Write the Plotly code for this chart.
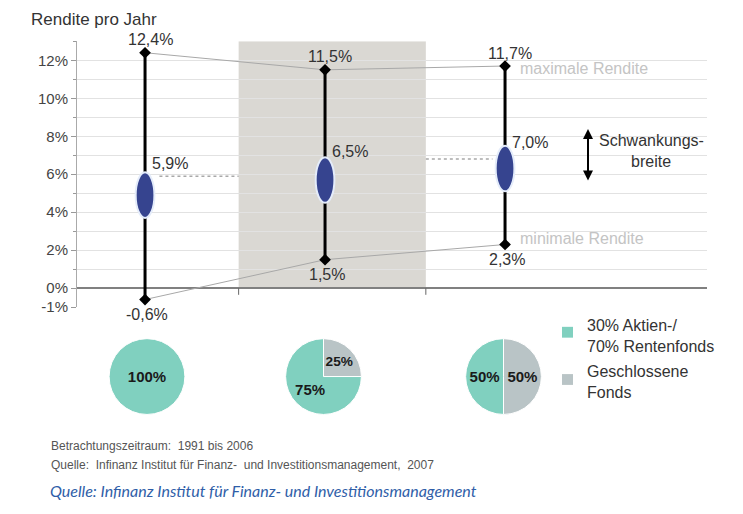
import plotly.graph_objects as go

# ---------------- data ----------------
positions = [0, 1, 2]
max_rendite = [12.4, 11.5, 11.7]
min_rendite = [-0.6, 1.5, 2.3]
mittel_rendite = [5.9, 6.5, 7.0]
ellipse_center = [4.9, 5.7, 6.3]
max_labels = ["12,4%", "11,5%", "11,7%"]
min_labels = ["-0,6%", "1,5%", "2,3%"]
mittel_labels = ["5,9%", "6,5%", "7,0%"]
y_tickvals = [-1, 0, 2, 4, 6, 8, 10, 12]
y_ticktext = ["-1%", "0%", "2%", "4%", "6%", "8%", "10%", "12%"]
pie_labels = ["Geschlossene Fonds", "30% Aktien-/70% Rentenfonds"]
pie_values = [[0, 100], [25, 75], [50, 50]]
legend_texts = ["30% Aktien-/<br>70% Rentenfonds", "Geschlossene<br>Fonds"]

W, H = 743, 514
def px(x): return x / W
def py(y): return 1 - y / H

TEAL = "#80d0bf"
GREY = "#b9c4c6"
TXT = "#333333"
FONT = "Liberation Sans, Arial, sans-serif"

fig = go.Figure()

# connecting lines (max / min)
fig.add_trace(go.Scatter(x=positions, y=max_rendite, mode="lines",
                         line=dict(color="#a8a8a8", width=1), hoverinfo="skip"))
fig.add_trace(go.Scatter(x=positions, y=min_rendite, mode="lines",
                         line=dict(color="#a8a8a8", width=1), hoverinfo="skip"))

# whiskers
for i, x in enumerate(positions):
    fig.add_trace(go.Scatter(x=[x, x], y=[min_rendite[i], max_rendite[i]],
                             mode="lines+markers",
                             line=dict(color="black", width=3),
                             marker=dict(symbol="diamond", size=9, color="black"),
                             hoverinfo="skip"))

# dotted connectors between mean levels
fig.add_trace(go.Scatter(x=[positions[0] + 0.08, 0.52], y=[mittel_rendite[0]] * 2, mode="lines",
                         line=dict(color="#a8a8a8", width=1.5, dash="dot"), hoverinfo="skip"))
fig.add_trace(go.Scatter(x=[1.56, positions[2] - 0.07], y=[mittel_rendite[1] + 0.3] * 2, mode="lines",
                         line=dict(color="#a8a8a8", width=1.5, dash="dot"), hoverinfo="skip"))

shapes = []
# shaded band
shapes.append(dict(type="rect", xref="x", yref="y", x0=0.52, x1=1.56, y0=0, y1=13,
                   fillcolor="#dad8d3", line=dict(width=0), layer="below"))
# ellipses
for i, x in enumerate(positions):
    shapes.append(dict(type="circle", xref="x", yref="y",
                       x0=x - 0.052, x1=x + 0.052,
                       y0=ellipse_center[i] - 1.2, y1=ellipse_center[i] + 1.2,
                       fillcolor="#36448f", line=dict(color="#e4ecfa", width=2), layer="above"))
# small x ticks at band edges
for xv in [0.52, 1.56]:
    shapes.append(dict(type="line", xref="x", yref="y", x0=xv, x1=xv, y0=0, y1=-0.35,
                       line=dict(color="#666", width=1)))
# legend squares
shapes.append(dict(type="rect", xref="paper", yref="paper", x0=px(562), x1=px(573),
                   y0=py(343), y1=py(332), fillcolor=TEAL, line=dict(width=0)))
shapes.append(dict(type="rect", xref="paper", yref="paper", x0=px(562), x1=px(573),
                   y0=py(391), y1=py(380), fillcolor=GREY, line=dict(width=0)))

LBL = dict(size=16, color=TXT, family=FONT)
annotations = []
for i, x in enumerate(positions):
    annotations.append(dict(x=x, y=max_rendite[i], xref="x", yref="y", text=max_labels[i],
                            showarrow=False, xanchor="center", yanchor="middle",
                            xshift=5, yshift=13, font=LBL))
    annotations.append(dict(x=x, y=min_rendite[i], xref="x", yref="y", text=min_labels[i],
                            showarrow=False, xanchor="center", yanchor="middle",
                            xshift=2, yshift=-15, font=LBL))
    annotations.append(dict(x=x, y=mittel_rendite[i], xref="x", yref="y", text=mittel_labels[i],
                            showarrow=False, xanchor="left", yanchor="middle",
                            xshift=5, yshift=13, font=LBL))

def ann(x, y, text, size, color=TXT, xanchor="left", family=FONT, align="left"):
    return dict(x=px(x), y=py(y), xref="paper", yref="paper", text=text, showarrow=False,
                xanchor=xanchor, yanchor="middle", align=align,
                font=dict(size=size, color=color, family=family))

annotations += [
    ann(518, 70, "maximale Rendite", 16, "#c4c4c4"),
    ann(518, 242, "minimale Rendite", 16, "#c4c4c4"),
    ann(29, 20, "Rendite pro Jahr", 17),
    ann(651, 143, "Schwankungs-", 16, xanchor="center"),
    ann(651, 164, "breite", 16, xanchor="center"),
    ann(585, 341, legend_texts[0], 16),
    ann(585, 388, legend_texts[1], 16),
    ann(49, 453, "Betrachtungszeitraum:  1991 bis 2006", 12, "#555"),
    ann(49, 472, "Quelle:  Infinanz Institut für Finanz-  und Investitionsmanagement,  2007", 12, "#555"),
    ann(48, 498, "<i>Quelle: Infinanz Institut für Finanz- und Investitionsmanagement</i>", 16,
        "#2f5ea8", family="Lato, sans-serif"),
    dict(x=px(588), y=py(131), ax=0, ay=53, xref="paper", yref="paper",
         axref="pixel", ayref="pixel", text="", showarrow=True, arrowside="end+start",
         arrowhead=2, arrowsize=1, arrowwidth=2, arrowcolor="black"),
]

# pies
pie_centers = [147, 323.5, 503.5]
for k, c in enumerate(pie_centers):
    vals = pie_values[k]
    fig.add_trace(go.Pie(labels=pie_labels, values=vals, sort=False, direction="clockwise",
                         rotation=0,
                         marker=dict(colors=[GREY, TEAL], line=dict(color="white", width=1)),
                         texttemplate="<b>%{value}%</b>", textposition="inside",
                         insidetextorientation="horizontal",
                         textfont=dict(size=15, color="#1a1a1a", family=FONT),
                         domain=dict(x=[px(c - 38), px(c + 38)], y=[py(421), py(344)]),
                         showlegend=False, hoverinfo="skip"))

fig.update_layout(
    width=W, height=H, margin=dict(l=0, r=0, t=0, b=0),
    paper_bgcolor="white", plot_bgcolor="white", showlegend=False,
    shapes=shapes, annotations=annotations,
    xaxis=dict(domain=[px(77), px(707)], range=[-0.378, 3.122], showgrid=False,
               zeroline=False, showticklabels=False, ticks="", showline=False, fixedrange=True),
    yaxis=dict(domain=[py(312), py(42)], range=[-1, 13], tickvals=y_tickvals, ticktext=y_ticktext,
               showgrid=True, gridcolor="#e2e2e2", gridwidth=1,
               minor=dict(dtick=1, tick0=0, showgrid=True, gridcolor="#e2e2e2",
                          ticks="outside", ticklen=3, tickcolor="#999"),
               ticks="outside", ticklen=5, tickcolor="#999",
               showline=True, linecolor="#aaaaaa", linewidth=1,
               zeroline=True, zerolinecolor="#808080", zerolinewidth=2,
               tickfont=dict(size=15, color="#444", family=FONT), fixedrange=True),
)

fig.write_html("out.html")
